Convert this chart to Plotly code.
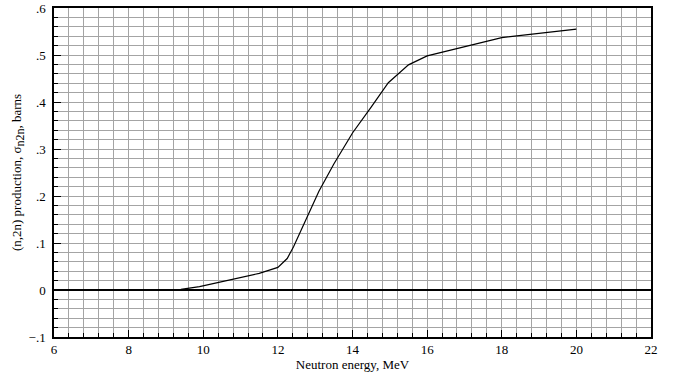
import plotly.graph_objects as go

energy = [9.0, 9.4, 9.9, 10.7, 11.2, 11.5, 12.0, 12.25, 12.42, 13.1, 13.5, 14.0, 14.5, 14.96, 15.5, 16.0, 18.0, 20.0]
sigma = [0.0, 0.0015, 0.007, 0.021, 0.030, 0.0355, 0.048, 0.067, 0.092, 0.21, 0.268, 0.334, 0.389, 0.441, 0.479, 0.498, 0.537, 0.555]

xticks = [6, 8, 10, 12, 14, 16, 18, 20, 22]
xticklabels = ["6", "8", "10", "12", "14", "16", "18", "20", "22"]
yticks = [-0.1, 0.0, 0.1, 0.2, 0.3, 0.4, 0.5, 0.6]
yticklabels = ["\u2212.1", "0", ".1", ".2", ".3", ".4", ".5", ".6"]

font_family = "Liberation Serif"

fig = go.Figure()
fig.add_trace(go.Scatter(x=energy, y=sigma, mode="lines",
                         line=dict(color="black", width=1.2), showlegend=False,
                         hoverinfo="skip"))

grid_color = "#a4a4a4"
fig.update_xaxes(
    range=[6, 22], tickvals=xticks, ticktext=xticklabels,
    ticks="inside", ticklen=7, tickcolor="black", tickwidth=1,
    showgrid=True, gridcolor=grid_color, gridwidth=1,
    minor=dict(dtick=0.4, tick0=6, showgrid=True, gridcolor=grid_color, gridwidth=1,
               ticks="inside", ticklen=4, tickcolor="black"),
    showline=True, linecolor="black", linewidth=1.5, mirror=True,
    zeroline=False, automargin=False,
    title=dict(text="Neutron energy, MeV", font=dict(size=13, family=font_family, color="black"), standoff=2),
    tickfont=dict(size=13, family=font_family, color="black"),
)
fig.update_yaxes(
    range=[-0.1, 0.6], tickvals=yticks, ticktext=yticklabels,
    ticks="inside", ticklen=7, tickcolor="black", tickwidth=1,
    ticklabelstandoff=4,
    showgrid=True, gridcolor=grid_color, gridwidth=1,
    minor=dict(dtick=0.02, tick0=0, showgrid=True, gridcolor=grid_color, gridwidth=1,
               ticks="inside", ticklen=4, tickcolor="black"),
    showline=True, linecolor="black", linewidth=1.5, mirror=True,
    zeroline=True, zerolinecolor="black", zerolinewidth=1.6, automargin=False,
    title=dict(text="(n,2n) production, \u03c3<sub><span style='font-size:12px'>n2n</span></sub>, barns",
               font=dict(size=13, family=font_family, color="black"), standoff=4),
    tickfont=dict(size=13, family=font_family, color="black"),
)
fig.update_layout(
    width=694, height=377,
    margin=dict(l=54, r=43, t=8, b=40, autoexpand=False),
    plot_bgcolor="white", paper_bgcolor="white",
    font=dict(family=font_family, color="black"),
)
fig.write_html("out.html", config={"displayModeBar": False},
               post_script="document.body.style.margin='0';")
